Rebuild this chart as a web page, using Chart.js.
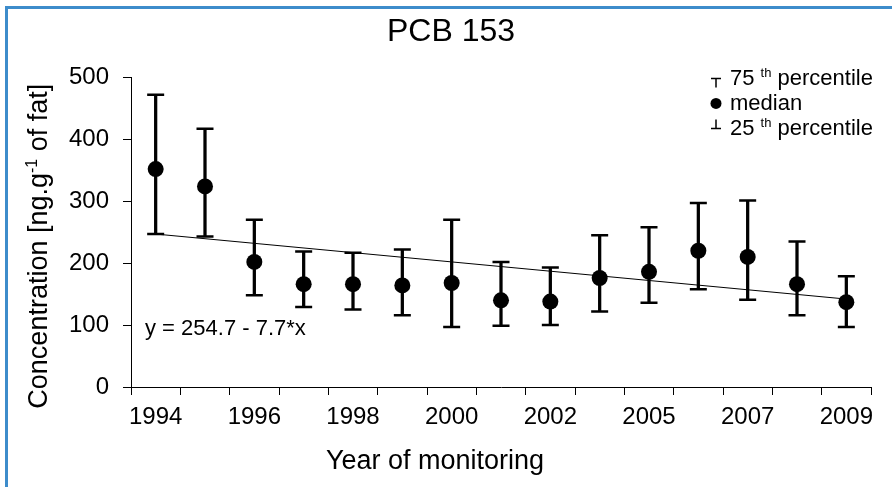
<!DOCTYPE html>
<html>
<head>
<meta charset="utf-8">
<script src="https://cdn.jsdelivr.net/npm/chart.js@4.4.1/dist/chart.umd.min.js"></script>
<style>
  body { margin: 0; background: #fff; overflow: hidden; }
  #frame {
    position: absolute; left: 5px; top: 6px; width: 900px; height: 500px;
    border-left: 3px solid #3d8ccb; border-top: 3px solid #3d8ccb;
  }
  #wrap { position: absolute; left: 0; top: 0; width: 892px; height: 487px; }
</style>
</head>
<body>
<div id="frame"></div>
<div id="wrap"><canvas id="chart"></canvas></div>
<script>
const years = ["1994", "1995", "1996", "1997", "1998", "1999", "2000", "2001",
  "2002", "2004", "2005", "2006", "2007", "2008", "2009"];
const shownYears = ["1994", "1996", "1998", "2000", "2002", "2005", "2007", "2009"];

const medians = [352, 324, 202, 166, 166, 164, 168, 140, 138, 176, 186, 220, 210, 166, 137];
const q75 = [472, 417, 270, 219, 217, 222, 270, 202, 193, 245, 258, 297, 301, 235, 179];
const q25 = [247, 243, 148, 129, 125, 116, 97, 99, 100, 122, 136, 158, 141, 116, 97];

// fitted trend, read at both ends of the line
const trendYears = ["1994", "2009"];
const trendValues = [247, 142];
const equation = "y = 254.7 - 7.7*x";

const FAMILY = "'Liberation Sans', Arial, Helvetica, sans-serif";
const font = (size) => `${size}px ${FAMILY}`;

// text runs with superscripts: [text, isSup]
function drawRich(ctx, parts, x, y, size, center) {
  const supSize = Math.round(size * 0.6);
  const widths = parts.map(([t, sup]) => {
    ctx.font = font(sup ? supSize : size);
    return ctx.measureText(t).width;
  });
  let cx = center ? x - widths.reduce((a, b) => a + b, 0) / 2 : x;
  parts.forEach(([t, sup], i) => {
    ctx.font = font(sup ? supSize : size);
    ctx.fillText(t, cx, sup ? y - size * 0.38 : y);
    cx += widths[i];
  });
}

const extras = {
  id: "extras",
  afterDraw(chart) {
    const { ctx, chartArea: a } = chart;
    ctx.save();
    ctx.fillStyle = "#000";
    ctx.strokeStyle = "#000";
    ctx.textAlign = "left";
    ctx.textBaseline = "alphabetic";

    // x axis title
    drawRich(ctx, [["Year of monitoring", false]], a.left + 304, a.bottom + 82, 27, true);

    // y axis title, rotated
    ctx.save();
    ctx.translate(a.left - 84, (a.top + a.bottom) / 2 + 14);
    ctx.rotate(-Math.PI / 2);
    drawRich(ctx, [["Concentration [ng.g", false], ["-1", true], [" of fat]", false]], 0, 0, 27, true);
    ctx.restore();

    // regression equation
    drawRich(ctx, [[equation, false]], a.left + 14, a.bottom - 52, 22, false);

    // legend
    const sx = a.right - 155;
    const tx = a.right - 141;
    ctx.lineWidth = 1.5;
    ctx.beginPath();
    ctx.moveTo(sx - 5, a.top + 1); ctx.lineTo(sx + 5, a.top + 1);
    ctx.moveTo(sx, a.top + 1); ctx.lineTo(sx, a.top + 10);
    ctx.moveTo(sx, a.top + 42); ctx.lineTo(sx, a.top + 51);
    ctx.moveTo(sx - 5, a.top + 51); ctx.lineTo(sx + 5, a.top + 51);
    ctx.stroke();
    ctx.beginPath();
    ctx.arc(sx, a.top + 26, 5.5, 0, Math.PI * 2);
    ctx.fill();
    drawRich(ctx, [["75 ", false], ["th", true], [" percentile", false]], tx, a.top + 8, 22, false);
    drawRich(ctx, [["median", false]], tx, a.top + 33, 22, false);
    drawRich(ctx, [["25 ", false], ["th", true], [" percentile", false]], tx, a.top + 58, 22, false);

    ctx.restore();
  }
};

new Chart(document.getElementById("chart"), {
  type: "bar",
  data: {
    labels: years,
    datasets: [
      {
        type: "line",
        label: "median",
        data: medians,
        showLine: false,
        pointStyle: "circle",
        pointRadius: 8,
        pointBackgroundColor: "#000",
        pointBorderWidth: 0,
      },
      {
        type: "line",
        label: "75th percentile",
        data: q75,
        showLine: false,
        pointStyle: "line",
        pointRadius: 8.5,
        pointBorderColor: "#000",
        pointBorderWidth: 2.5,
      },
      {
        type: "line",
        label: "25th percentile",
        data: q25,
        showLine: false,
        pointStyle: "line",
        pointRadius: 8.5,
        pointBorderColor: "#000",
        pointBorderWidth: 2.5,
      },
      {
        label: "interquartile range",
        data: q25.map((lo, i) => [lo, q75[i]]),
        backgroundColor: "#000",
        borderWidth: 0,
        barThickness: 2.6,
      },
      {
        type: "line",
        label: "trend",
        data: trendYears.map((x, i) => ({ x: x, y: trendValues[i] })),
        borderColor: "#000",
        borderWidth: 1,
        pointRadius: 0,
        fill: false,
      },
    ],
  },
  options: {
    responsive: true,
    maintainAspectRatio: false,
    animation: false,
    layout: { padding: { left: 31, right: 21, top: 0, bottom: 0 } },
    plugins: {
      legend: { display: false },
      tooltip: { enabled: false },
      title: {
        display: true,
        text: "PCB 153",
        color: "#000",
        font: { family: FAMILY, size: 32, weight: "normal" },
        padding: { top: 13, bottom: 26 },
      },
    },
    scales: {
      x: {
        offset: true,
        grid: { offset: true, drawOnChartArea: false, tickLength: 8, color: "#000", lineWidth: 1 },
        border: { color: "#000", width: 1 },
        ticks: {
          autoSkip: false,
          maxRotation: 0,
          color: "#000",
          padding: 8,
          font: { family: FAMILY, size: 24 },
          callback: (v, i) => (shownYears.includes(years[i]) ? years[i] : ""),
        },
        afterFit: (s) => { s.height = 100; },
      },
      y: {
        min: 0,
        max: 500,
        grid: { drawOnChartArea: false, tickLength: 8, color: "#000", lineWidth: 1 },
        border: { color: "#000", width: 1 },
        ticks: {
          stepSize: 100,
          color: "#000",
          padding: 14,
          font: { family: FAMILY, size: 24 },
        },
        afterFit: (s) => { s.width = 100; },
      },
    },
  },
  plugins: [extras],
});
</script>
</body>
</html>
